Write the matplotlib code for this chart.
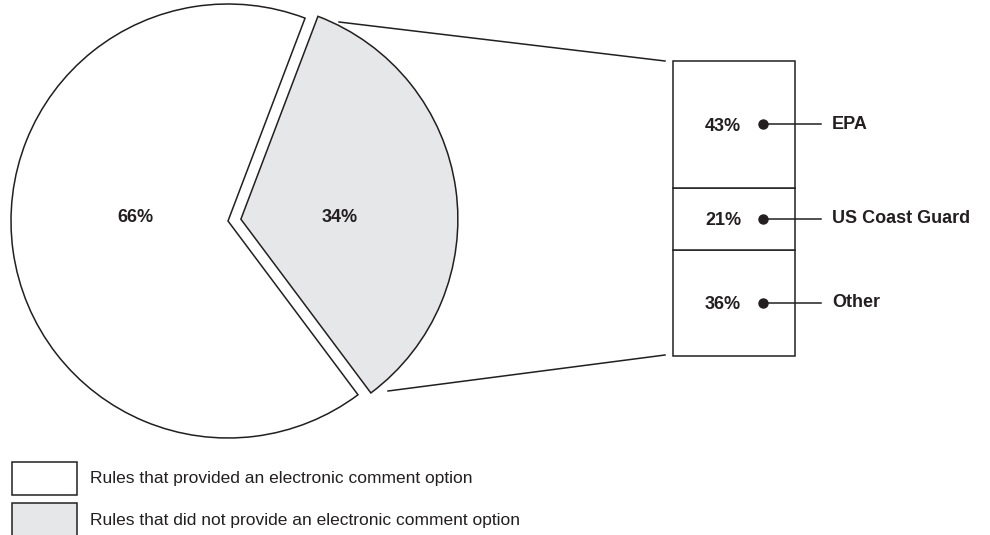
import numpy as np
import matplotlib.pyplot as plt
from matplotlib.patches import Rectangle

plt.rcParams['font.family'] = ['Liberation Sans', 'DejaVu Sans']

# pie data: rules with / without an electronic comment option
pie_labels = ["Rules that did not provide an electronic comment option",
              "Rules that provided an electronic comment option"]
pie_values = [34, 66]

# breakdown of the 34% slice
agencies = ["Other", "US Coast Guard", "EPA"]
agency_values = [36, 21, 43]

ink = "#231f20"
grey = "#e6e7e9"
H = 535  # figure height in px, used to flip pixel rows

fig = plt.figure(figsize=(9.9, 5.35), dpi=100)
ax = fig.add_axes([0, 0, 1, 1])

# exploded pie (explode is in data units here)
cx, cy, r = 228, H - 221, 217
ax.pie(pie_values, colors=[grey, "white"], startangle=-53.2, counterclock=True,
       explode=[13, 0], center=(cx, cy), radius=r,
       wedgeprops=dict(edgecolor=ink, linewidth=1.1))
ax.text(340, H - 217, f"{pie_values[0]}%", ha="center", va="center",
        fontsize=13, fontweight="bold", color=ink)
ax.text(135, H - 217, f"{pie_values[1]}%", ha="center", va="center",
        fontsize=13, fontweight="bold", color=ink)

# stacked bar for the breakdown
bar_x, bar_w = 733.5, 122
bar_bot, bar_top = H - 356, H - 61
scale = (bar_top - bar_bot) / sum(agency_values)
bottom = bar_bot
for name, v in zip(agencies, agency_values):
    h = v * scale
    ax.bar(bar_x, h, width=bar_w, bottom=bottom, color="white",
           edgecolor=ink, linewidth=1.1)
    ym = bottom + h / 2
    ax.text(723, ym - 2, f"{v}%", ha="center", va="center",
            fontsize=13, fontweight="bold", color=ink)
    ax.plot([763, 821], [ym, ym], color=ink, linewidth=1.1)
    ax.plot(763, ym, "o", color=ink, markersize=6.5)
    ax.text(832, ym, name, ha="left", va="center",
            fontsize=13, fontweight="bold", color=ink)
    bottom += h

# connector lines from the slice to the bar
ax.plot([339, 665], [H - 22, H - 61], color=ink, linewidth=1.1)
ax.plot([388, 665], [H - 391, H - 355], color=ink, linewidth=1.1)

# legend
legend_rows = [(462, "white", pie_labels[1]), (503, grey, pie_labels[0])]
for top, fc, label in legend_rows:
    ax.add_patch(Rectangle((12, H - top - 33), 65, 33, facecolor=fc,
                           edgecolor=ink, linewidth=1.1, clip_on=False))
    ax.text(90, H - top - 17, label, ha="left", va="center",
            fontsize=12.5, color=ink)

ax.set_xlim(0, 990)
ax.set_ylim(0, H)
ax.set_aspect("equal")
ax.axis("off")

fig.savefig("out.png", dpi=100)
